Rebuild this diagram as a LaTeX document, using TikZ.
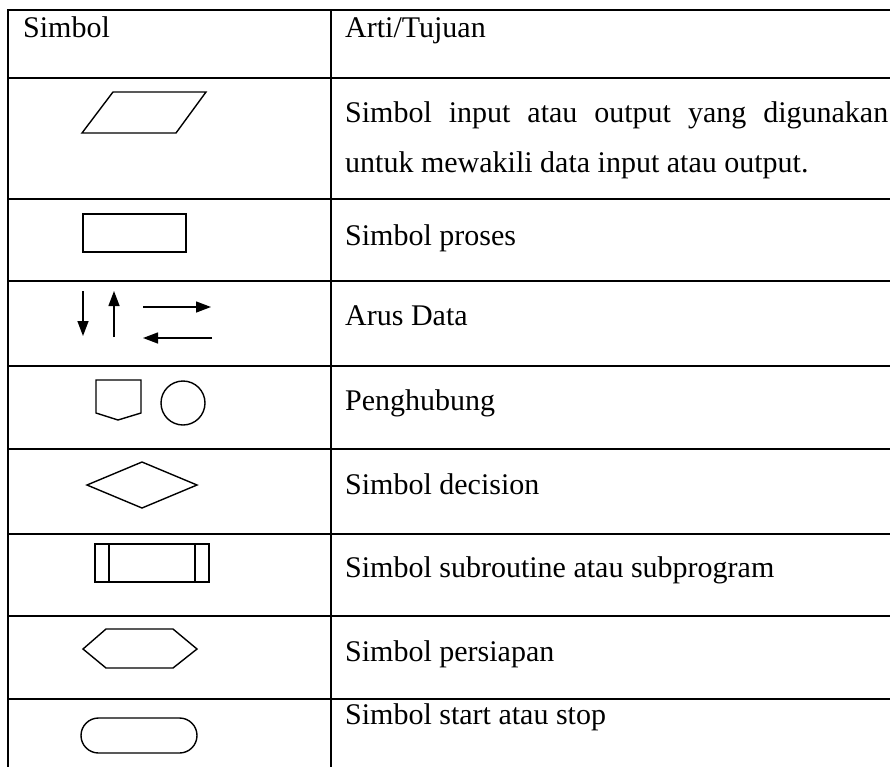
\documentclass[tikz,border=0pt]{standalone}
\usepackage{fontspec}
\setmainfont{Liberation Serif}
\usetikzlibrary{arrows.meta}
\begin{document}
\begin{tikzpicture}[x=1pt,y=-1pt,
  hrule/.style={line width=2.2pt},
  vrule/.style={line width=1.3pt},
  sym/.style={line width=1.4pt, line join=miter},
  flow/.style={line width=1.4pt,-{Triangle[length=15pt,width=11pt]}},
  txt/.style={anchor=base west, inner sep=0pt, font=\fontsize{30}{36}\selectfont}]
\useasboundingbox (0,0) rectangle (890,766);
\fill[white] (0,0) rectangle (890,766);
% table rules
\foreach \yy in {10,78,199,281,366,449,534,616,699}
  \draw[hrule] (7,\yy) -- (900,\yy);
\draw[vrule] (8,9) -- (8,770);
\draw[vrule] (331,9) -- (331,770);
% texts
\node[txt] (h1) at (23,37) {Simbol};
\node[txt] (h2) at (345,37) {Arti/Tujuan};
\node[txt] (t2a) at (345,122) {\makebox[543pt][s]{Simbol input atau output yang digunakan}};
\node[txt] (t2b) at (345,172) {untuk mewakili data input atau output.};
\node[txt] (t3) at (345,245) {Simbol proses};
\node[txt] (t4) at (345,325) {Arus Data};
\node[txt] (t5) at (345,410) {Penghubung};
\node[txt] (t6) at (345,494) {Simbol decision};
\node[txt] (t7) at (345,577) {Simbol subroutine atau subprogram};
\node[txt] (t8) at (345,661) {Simbol persiapan};
\node[txt] (t9) at (345,724) {Simbol start atau stop};
% input/output
\draw[sym] (113,92) -- (206,92) -- (176,133) -- (82,133) -- cycle;
% process
\draw[sym] (83,214) rectangle (186,252);
% flow arrows
\coordinate (da) at (83,291); \coordinate (db) at (83,336);
\coordinate (ua) at (114,337); \coordinate (ub) at (114,291);
\coordinate (ra) at (143,307); \coordinate (rb) at (211,307);
\coordinate (la) at (212,338); \coordinate (lb) at (143,338);
\draw[flow] (da) -- (db);
\draw[flow] (ua) -- (ub);
\draw[flow] (ra) -- (rb);
\draw[flow] (la) -- (lb);
% connectors
\draw[sym] (96,380) -- (141,380) -- (141,413) -- (118,420) -- (96,413) -- cycle;
\draw[sym] (183,403) circle[radius=22];
% decision
\draw[sym] (87,485) -- (142,462) -- (197,485) -- (142,508) -- cycle;
% subroutine
\draw[sym] (95,544) rectangle (209,582);
\draw[sym] (109,544) -- (109,582);
\draw[sym] (195,544) -- (195,582);
% preparation
\draw[sym] (83,649) -- (106,629) -- (173,629) -- (197,649) -- (173,668) -- (106,668) -- cycle;
% terminator
\draw[sym, rounded corners=17.5pt] (81,718) rectangle (197,753);
\end{tikzpicture}
\end{document}
